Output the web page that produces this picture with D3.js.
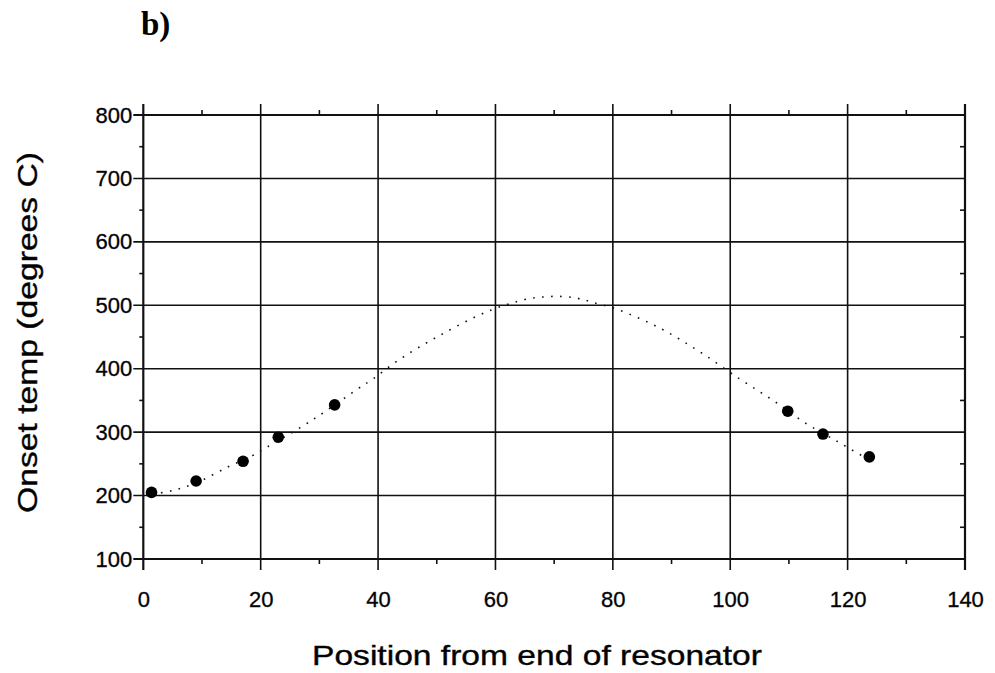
<!DOCTYPE html>
<html>
<head>
<meta charset="utf-8">
<script src="https://cdn.jsdelivr.net/npm/d3@7"></script>
<style>
  body { margin: 0; background: #fff; }
  text { fill: #000; }
</style>
</head>
<body>
<div id="chart"></div>
<script>
// tick values
const xTicks = [0, 20, 40, 60, 80, 100, 120, 140];
const xMinor = [10, 30, 50, 70, 90, 110, 130];
const yTicks = [100, 200, 300, 400, 500, 600, 700, 800];
const yMinor = [150, 250, 350, 450, 550, 650, 750];

// measured onset temperatures
const posMeasured  = [1.4, 9, 17, 23, 32.6, 109.8, 115.8, 123.7];
const tempMeasured = [205, 223, 254, 292, 343, 333, 297, 261];

// dotted fitted curve
const posFit  = [1.5, 5, 9, 14.4, 18.6, 21, 26.7, 30.9, 36.5, 39.3, 43.4, 50.4, 58.6, 65, 68, 71, 74, 76.4, 80.6, 87.6, 94.6, 101.6, 107.3, 112.7, 118.3, 122.4];
const tempFit = [202, 208, 220, 245, 263, 276, 307, 332, 368, 385, 413, 452, 490, 509, 513, 514, 511, 505, 494, 466, 428, 384, 350, 315, 285, 263];

const width = 995, height = 673;
const plotL = 143.3, plotR = 965, plotT = 115, plotB = 559;

const svg = d3.select("#chart").append("svg")
  .attr("width", width)
  .attr("height", height);

const x = d3.scaleLinear().domain([0, 140]).range([plotL, plotR]);
const y = d3.scaleLinear().domain([100, 800]).range([plotB, plotT]);

const ink = "#111";
const sans = "'Liberation Sans', Arial, sans-serif";

// panel label
svg.append("text")
  .attr("x", 141).attr("y", 35)
  .attr("font-family", "'Liberation Serif', serif")
  .attr("font-weight", "bold")
  .attr("font-size", "33px")
  .text("b)");

// vertical grid lines, poking out above and below the frame
svg.selectAll(".vgrid")
  .data(xTicks)
  .join("line")
  .attr("x1", d => x(d)).attr("x2", d => x(d))
  .attr("y1", plotT - 11).attr("y2", plotB + 11)
  .attr("stroke", ink)
  .attr("stroke-width", (d, i) => (i === 0 || i === xTicks.length - 1) ? 2.2 : 1.6);

// horizontal grid lines, poking out to the left
svg.selectAll(".hgrid")
  .data(yTicks)
  .join("line")
  .attr("x1", plotL - 10).attr("x2", plotR)
  .attr("y1", d => y(d)).attr("y2", d => y(d))
  .attr("stroke", ink)
  .attr("stroke-width", (d, i) => (i === 0 || i === yTicks.length - 1) ? 2.2 : 1.6);

// minor ticks: bottom (down), top (up)
svg.selectAll(".xminB")
  .data(xMinor)
  .join("line")
  .attr("x1", d => x(d)).attr("x2", d => x(d))
  .attr("y1", plotB).attr("y2", plotB + 5)
  .attr("stroke", ink).attr("stroke-width", 1.6);
svg.selectAll(".xminT")
  .data(xMinor)
  .join("line")
  .attr("x1", d => x(d)).attr("x2", d => x(d))
  .attr("y1", plotT).attr("y2", plotT - 5)
  .attr("stroke", ink).attr("stroke-width", 1.6);

// minor ticks: left (out), right (in)
svg.selectAll(".yminL")
  .data(yMinor)
  .join("line")
  .attr("x1", plotL - 4).attr("x2", plotL)
  .attr("y1", d => y(d)).attr("y2", d => y(d))
  .attr("stroke", ink).attr("stroke-width", 1.6);
svg.selectAll(".yminR")
  .data(yMinor)
  .join("line")
  .attr("x1", plotR - 5).attr("x2", plotR)
  .attr("y1", d => y(d)).attr("y2", d => y(d))
  .attr("stroke", ink).attr("stroke-width", 1.6);

// tick labels through the axis generators (lines hidden, labels kept)
const xAxis = svg.append("g")
  .attr("transform", `translate(0,${plotB})`)
  .call(d3.axisBottom(x).tickValues(xTicks).tickSize(0).tickPadding(32).tickFormat(d3.format("d")));
const yAxis = svg.append("g")
  .attr("transform", `translate(${plotL},0)`)
  .call(d3.axisLeft(y).tickValues(yTicks).tickSize(0).tickPadding(11).tickFormat(d3.format("d")));

[xAxis, yAxis].forEach(g => {
  g.select(".domain").remove();
  g.selectAll("text")
    .attr("font-family", sans)
    .attr("font-size", "22px")
    .attr("fill", ink)
    .attr("stroke", ink)
    .attr("stroke-width", 0.35);
});
xAxis.selectAll("text").attr("dy", "0").attr("y", 48);

// dotted fitted curve
const fit = posFit.map((p, i) => [p, tempFit[i]]);
svg.append("path")
  .datum(fit)
  .attr("fill", "none")
  .attr("stroke", ink)
  .attr("stroke-width", 1.6)
  .attr("stroke-dasharray", "1.6 7.4")
  .attr("d", d3.line().x(d => x(d[0])).y(d => y(d[1])).curve(d3.curveCatmullRom));

// measured points
svg.selectAll(".pt")
  .data(posMeasured)
  .join("circle")
  .attr("cx", d => x(d))
  .attr("cy", (d, i) => y(tempMeasured[i]))
  .attr("r", 5.8)
  .attr("fill", "#000");

// axis titles
svg.append("text")
  .attr("x", 312).attr("y", 665)
  .attr("font-family", sans)
  .attr("font-size", "28px")
  .attr("stroke", ink).attr("stroke-width", 0.4)
  .attr("textLength", 450)
  .attr("lengthAdjust", "spacingAndGlyphs")
  .text("Position from end of resonator");

svg.append("text")
  .attr("transform", "translate(37,513) rotate(-90)")
  .attr("font-family", sans)
  .attr("font-size", "28px")
  .attr("stroke", ink).attr("stroke-width", 0.4)
  .attr("textLength", 361)
  .attr("lengthAdjust", "spacingAndGlyphs")
  .text("Onset temp (degrees C)");
</script>
</body>
</html>
